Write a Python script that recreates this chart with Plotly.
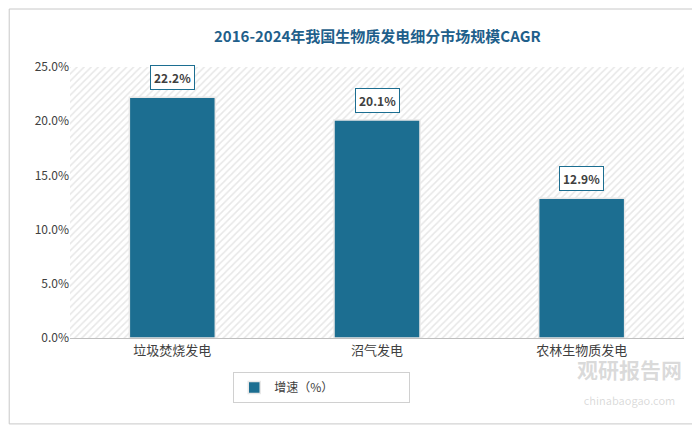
import plotly.graph_objects as go

categories = ["垃圾焚烧发电", "沼气发电", "农林生物质发电"]
values = [22.2, 20.1, 12.9]
series_name = "增速（%）"
title = "2016-2024年我国生物质发电细分市场规模CAGR"
y_ticks = [0, 5, 10, 15, 20, 25]

fig = go.Figure()
# hatched plot background
fig.add_trace(go.Bar(x=[0], y=[25], width=[1], xaxis="x", yaxis="y",
                     marker=dict(color="white", line=dict(width=0),
                                 pattern=dict(shape="/", fgcolor="#cfcfcf", size=5, solidity=0.3)),
                     showlegend=False, hoverinfo="skip"))
fig.add_trace(go.Bar(x=categories, y=values, name=series_name, xaxis="x2", yaxis="y",
                     width=0.42, marker=dict(color="#1c6e91", line=dict(color="#e8e8e8", width=1.5))))
for c, v in zip(categories, values):
    fig.add_annotation(x=c, y=v, xref="x2", yref="y", text=f"<b>{v:.1f}%</b>", showarrow=False,
                       yshift=20, bgcolor="white", bordercolor="#1c6e91", borderwidth=1, borderpad=3,
                       font=dict(size=12, color="#404040"))
fig.add_annotation(x=0.5, y=1.118, xref="paper", yref="paper", showarrow=False,
                   text=f"<b>{title}</b>", font=dict(size=15, color="#1f5f8b"), yanchor="middle")
fig.add_annotation(x=1.0, y=-0.266, xref="paper", yref="paper", showarrow=False,
                   text="<b>观研报告网</b><br><span style='font-size:11px'>chinabaogao.com</span>",
                   font=dict(size=21, color="rgba(150,150,150,0.35)"), xanchor="right", yanchor="bottom")
fig.update_layout(
    width=700, height=427, margin=dict(l=62, r=24, t=59, b=97),
    paper_bgcolor="white", plot_bgcolor="white", bargap=0.57,
    font=dict(family="Noto Sans CJK SC", size=12, color="#404040"),
    xaxis=dict(range=[-0.5, 0.5], visible=False, fixedrange=True),
    xaxis2=dict(overlaying="x", showline=True, linecolor="#bfbfbf", ticks="",
                tickfont=dict(size=13, color="#404040")),
    yaxis=dict(range=[0, 25], tickvals=y_ticks, ticktext=[f"{t:.1f}%" for t in y_ticks],
               showgrid=False, zeroline=False, tickfont=dict(size=12, color="#404040")),
    legend=dict(orientation="h", x=0.41, xanchor="center", y=-0.125, yanchor="top",
                bordercolor="#d0d0d0", borderwidth=1, font=dict(size=12),
                entrywidth=130),
    shapes=[dict(type="rect", xref="paper", yref="paper", x0=-0.099, x1=1.0195, y0=-0.317, y1=1.214,
                 line=dict(color="#c8c8c8", width=1))],
)
fig.write_html("out.html")
